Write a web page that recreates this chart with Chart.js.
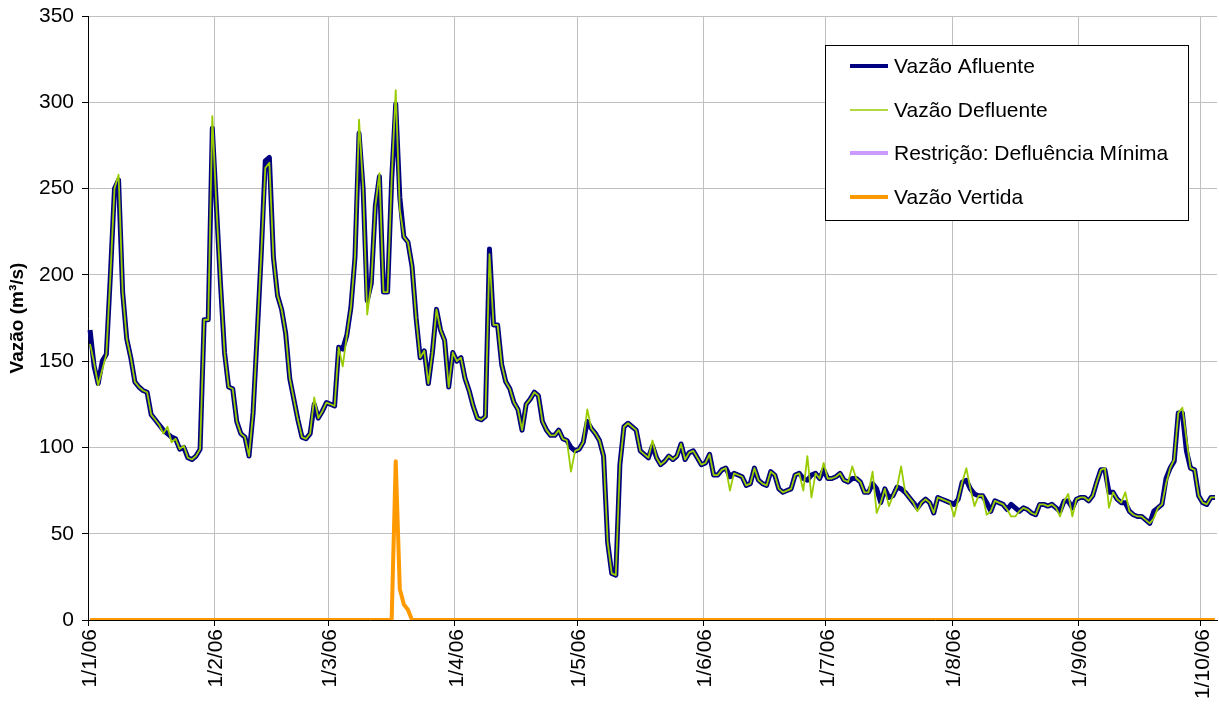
<!DOCTYPE html>
<html>
<head>
<meta charset="utf-8">
<title>Vazões 2006</title>
<script src="https://cdn.jsdelivr.net/npm/chart.js@4.4.1/dist/chart.umd.min.js"></script>
<style>
  html, body { margin: 0; padding: 0; background: #ffffff; }
  #wrap { width: 1219px; height: 705px; position: relative; }
</style>
</head>
<body>
<div id="wrap"><canvas id="chart" width="1219" height="705"></canvas></div>
<script>
// Daily series, 1 Jan 2006 .. 4 Oct 2006 (m³/s)
const firstDay = new Date(2006, 0, 1);
const dayCount = 277;

const monthTickLabels = ['1/1/06', '1/2/06', '1/3/06', '1/4/06', '1/5/06', '1/6/06', '1/7/06', '1/8/06', '1/9/06', '1/10/06'];
const monthTickIndex = [0, 31, 59, 90, 120, 151, 181, 212, 243, 273];

const vazaoAfluente = [
  168,147,137,150,154,200,250,255,190,163,
  152,138,135,133,132,119,116,113,110,108,
  106,105,99,100,94,93,95,99,174,174,
  285,240,195,155,135,134,115,108,106,95,
  120,165,212,266,268,210,188,180,166,140,
  128,116,106,105,108,125,117,121,126,125,
  124,158,157,165,181,210,282,250,185,195,
  240,257,190,190,255,299,245,222,219,205,
  175,152,156,137,155,180,168,162,135,155,
  150,152,140,133,124,117,116,118,215,171,
  171,148,138,134,126,122,110,125,128,132,
  130,115,110,107,107,110,105,104,100,98,
  99,103,115,111,108,104,95,45,27,26,
  90,112,114,112,110,98,96,94,101,94,
  90,92,95,93,95,102,93,97,98,94,
  90,91,96,84,84,87,88,83,85,84,
  83,78,79,88,81,79,78,86,84,76,
  74,75,76,84,85,82,81,84,85,82,
  87,82,82,83,85,81,80,82,82,80,
  74,74,79,76,68,76,71,72,77,76,
  74,71,68,65,68,70,68,62,71,70,
  69,68,67,70,80,81,76,73,72,72,
  68,63,69,68,67,64,67,65,63,65,
  64,62,61,67,67,66,67,65,63,69,
  69,65,70,71,71,69,72,80,87,87,
  74,74,70,68,68,63,61,60,60,58,
  56,63,65,67,82,88,92,120,120,98,
  88,87,72,68,67,71,71
];

const vazaoDefluente = [
  160,149,136,145,154,200,250,258,190,163,
  152,138,135,133,132,119,116,113,108,112,
  103,105,99,101,94,93,95,99,174,174,
  292,240,195,155,135,134,115,108,106,95,
  120,165,212,262,265,210,188,180,166,140,
  128,116,106,105,108,129,117,121,126,125,
  124,158,147,165,181,210,290,250,177,195,
  240,259,190,190,255,307,238,222,219,205,
  175,152,156,137,155,180,168,162,135,155,
  150,152,140,133,124,117,116,118,212,171,
  171,148,138,134,126,122,110,125,128,132,
  130,115,110,107,107,110,105,104,86,98,
  99,103,122,111,108,104,95,45,27,26,
  90,112,114,112,110,98,96,94,104,94,
  90,92,95,93,95,102,93,97,98,94,
  90,91,96,84,84,87,88,75,85,84,
  83,78,79,88,81,79,78,86,84,76,
  74,75,76,84,85,75,95,71,85,82,
  91,82,82,83,85,81,80,89,82,80,
  74,74,86,62,68,76,66,72,77,89,
  74,71,68,63,68,70,68,62,71,70,
  69,68,60,70,80,88,76,66,72,72,
  61,63,69,68,67,64,60,60,63,65,
  64,62,61,67,67,66,67,65,60,69,
  73,60,70,71,71,69,72,80,87,88,
  65,74,70,68,74,63,61,60,60,58,
  56,59,65,67,79,88,93,120,123,105,
  88,87,72,68,67,71,71
];

const restricaoDefluenciaMinima = [];

const vazaoVertida = [
  0,0,0,0,0,0,0,0,0,0,
  0,0,0,0,0,0,0,0,0,0,
  0,0,0,0,0,0,0,0,0,0,
  0,0,0,0,0,0,0,0,0,0,
  0,0,0,0,0,0,0,0,0,0,
  0,0,0,0,0,0,0,0,0,0,
  0,0,0,0,0,0,0,0,0,0,
  0,0,0,0,0,92,18,9,6,0,
  0,0,0,0,0,0,0,0,0,0,
  0,0,0,0,0,0,0,0,0,0,
  0,0,0,0,0,0,0,0,0,0,
  0,0,0,0,0,0,0,0,0,0,
  0,0,0,0,0,0,0,0,0,0,
  0,0,0,0,0,0,0,0,0,0,
  0,0,0,0,0,0,0,0,0,0,
  0,0,0,0,0,0,0,0,0,0,
  0,0,0,0,0,0,0,0,0,0,
  0,0,0,0,0,0,0,0,0,0,
  0,0,0,0,0,0,0,0,0,0,
  0,0,0,0,0,0,0,0,0,0,
  0,0,0,0,0,0,0,0,0,0,
  0,0,0,0,0,0,0,0,0,0,
  0,0,0,0,0,0,0,0,0,0,
  0,0,0,0,0,0,0,0,0,0,
  0,0,0,0,0,0,0,0,0,0,
  0,0,0,0,0,0,0,0,0,0,
  0,0,0,0,0,0,0,0,0,0,
  0,0,0,0,0,0,0
];

// one category per day, labelled d/m/yy
const dayLabels = [];
for (let i = 0; i < dayCount; i++) {
  const d = new Date(firstDay.getFullYear(), firstDay.getMonth(), firstDay.getDate() + i);
  dayLabels.push(d.getDate() + '/' + (d.getMonth() + 1) + '/' + String(d.getFullYear()).slice(2));
}

const FONT = "'Liberation Sans', Arial, sans-serif";
const GRID = '#c0c0c0';

function monthLabelAt(index) {
  const k = monthTickIndex.indexOf(index);
  return k >= 0 ? monthTickLabels[k] : '';
}

// legend box drawn inside the plot area, upper right
const boxLegend = {
  id: 'boxLegend',
  afterDraw(chart) {
    const ctx = chart.ctx;
    const left = 825, top = 45, right = 1188, bottom = 220;
    ctx.save();
    ctx.fillStyle = '#ffffff';
    ctx.fillRect(left, top, right - left, bottom - top);
    ctx.strokeStyle = '#000000';
    ctx.lineWidth = 1;
    ctx.strokeRect(left + 0.5, top + 0.5, right - left, bottom - top);
    const rows = [66, 110, 153, 197];
    ctx.font = '21px ' + FONT;
    ctx.textBaseline = 'middle';
    ctx.textAlign = 'left';
    chart.data.datasets.forEach((ds, i) => {
      const y = rows[i];
      ctx.strokeStyle = ds.borderColor;
      ctx.lineWidth = ds.legendWidth;
      ctx.lineCap = 'butt';
      ctx.beginPath();
      ctx.moveTo(850, y);
      ctx.lineTo(888, y);
      ctx.stroke();
      ctx.fillStyle = '#000000';
      ctx.fillText(ds.label, 894, y + 1);
    });
    ctx.restore();
  }
};

new Chart(document.getElementById('chart'), {
  type: 'line',
  data: {
    labels: dayLabels,
    datasets: [
      { label: 'Vazão Afluente', data: vazaoAfluente, borderColor: '#000080', borderWidth: 5, legendWidth: 4, order: 2 },
      { label: 'Vazão Defluente', data: vazaoDefluente, borderColor: '#99cc00', borderWidth: 1.8, legendWidth: 1.5, order: 1 },
      { label: 'Restrição: Defluência Mínima', data: restricaoDefluenciaMinima, borderColor: '#cc99ff', borderWidth: 4, legendWidth: 4, order: 3 },
      { label: 'Vazão Vertida', data: vazaoVertida, borderColor: '#ff9900', borderWidth: 4, legendWidth: 4, order: 0 }
    ]
  },
  options: {
    responsive: false,
    animation: false,
    devicePixelRatio: 1,
    layout: { padding: { top: 16, right: 2, bottom: 0, left: 0 } },
    elements: {
      point: { radius: 0, hoverRadius: 0 },
      line: { tension: 0, borderJoinStyle: 'round', borderCapStyle: 'butt', fill: false }
    },
    plugins: {
      legend: { display: false },
      tooltip: { enabled: false }
    },
    scales: {
      x: {
        type: 'category',
        offset: true,
        grid: {
          offset: true,
          drawTicks: true,
          tickLength: 6,
          lineWidth: 1,
          color: (c) => (c.index !== undefined && monthTickIndex.includes(c.index)) ? GRID : 'rgba(0,0,0,0)',
          tickColor: (c) => (c.index !== undefined && monthTickIndex.includes(c.index)) ? '#000000' : 'rgba(0,0,0,0)'
        },
        border: { display: true, color: '#000000', width: 1 },
        ticks: {
          autoSkip: false,
          maxRotation: 90,
          minRotation: 90,
          padding: 3,
          color: '#000000',
          font: { family: FONT, size: 21 },
          callback: (value, index) => monthLabelAt(index)
        },
        afterFit(scale) {
          scale.height = 85;
          scale.paddingLeft = 0;
          scale.paddingRight = 0;
        }
      },
      y: {
        min: 0,
        max: 350,
        ticks: {
          stepSize: 50,
          padding: 8,
          color: '#000000',
          font: { family: FONT, size: 21 }
        },
        grid: { color: GRID, lineWidth: 1, drawTicks: true, tickLength: 6, tickColor: '#000000' },
        border: { display: true, color: '#000000', width: 1 },
        title: {
          display: true,
          text: 'Vazão (m³/s)',
          color: '#000000',
          font: { family: FONT, size: 19, weight: 'bold' },
          padding: { top: 6, bottom: 0 }
        },
        afterFit(scale) {
          scale.width = 88;
          scale.paddingTop = 0;
          scale.paddingBottom = 0;
        }
      }
    }
  },
  plugins: [boxLegend]
});
</script>
</body>
</html>
